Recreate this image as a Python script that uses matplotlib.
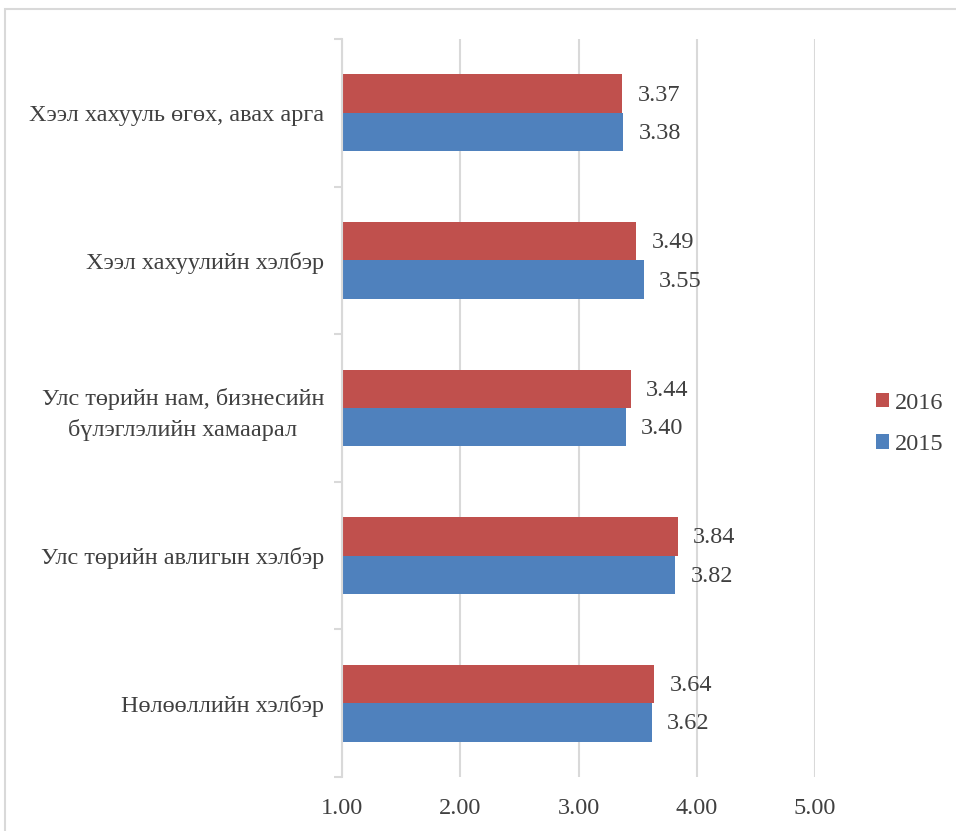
import numpy as np
import matplotlib.pyplot as plt
from matplotlib.patches import Rectangle

plt.rcParams['font.family'] = ['Liberation Serif', 'DejaVu Serif']

# Data (bottom to top)
categories = ["Нөлөөллийн хэлбэр",
              "Улс төрийн авлигын хэлбэр",
              "Улс төрийн нам, бизнесийн\nбүлэглэлийн хамаарал",
              "Хээл хахуулийн хэлбэр",
              "Хээл хахууль өгөх, авах арга"]
vals_2016 = [3.64, 3.84, 3.44, 3.49, 3.37]
vals_2015 = [3.62, 3.82, 3.40, 3.55, 3.38]
x_ticks = [1, 2, 3, 4, 5]

red = "#C0504D"
blue = "#4F81BD"
txt = "#404040"
grid_c = "#D9D9D9"
fs = 17.5

fig = plt.figure(figsize=(9.56, 8.31), dpi=100)
ax = fig.add_axes([342/956, 1 - 777/831, (815 - 342)/956, (777 - 39)/831])

y = np.arange(len(categories))
h = 0.26
base = 1.0
ax.barh(y - h/2, np.array(vals_2015) - base, left=base, height=h, color=blue, label="2015")
ax.barh(y + h/2, np.array(vals_2016) - base, left=base, height=h, color=red, label="2016")

for i in range(len(categories)):
    ax.text(vals_2016[i] + 0.13, y[i] + h/2 - 0.01, f"{vals_2016[i]:.2f}", va="center", ha="left",
            fontsize=fs, color=txt)
    ax.text(vals_2015[i] + 0.13, y[i] - h/2 - 0.01, f"{vals_2015[i]:.2f}", va="center", ha="left",
            fontsize=fs, color=txt)

ax.set_xlim(1, 5)
ax.set_ylim(-0.5, len(categories) - 0.5)
ax.set_xticks(x_ticks)
ax.set_xticklabels([f"{v:.2f}" for v in x_ticks], fontsize=fs, color=txt)
ax.tick_params(axis="x", length=0, pad=15)

ax.set_yticks(y)
ax.set_yticklabels(categories, fontsize=fs, color=txt, multialignment="center",
                   linespacing=1.5)
ax.tick_params(axis="y", length=0, pad=13)
ax.set_yticks(np.arange(-0.5, len(categories), 1), minor=True)
ax.tick_params(axis="y", which="minor", length=6, width=1.5, color=grid_c)

ax.grid(axis="x", color=grid_c, linewidth=1.5)
ax.set_axisbelow(True)
for s in ["top", "right", "bottom"]:
    ax.spines[s].set_visible(False)
ax.spines["left"].set_color(grid_c)
ax.spines["left"].set_linewidth(1.5)

handles, labels = ax.get_legend_handles_labels()
leg = fig.legend(handles[::-1], labels[::-1], loc="center left",
                 bbox_to_anchor=(866/956, 1 - 424/831), frameon=False,
                 fontsize=fs, handlelength=0.55, handleheight=0.55,
                 handletextpad=0.25, labelspacing=0.85, borderaxespad=0)
for t in leg.get_texts():
    t.set_color(txt)

# outer chart frame
fig.patches.append(Rectangle((5/956, -0.5), 2, 0.5 + 1 - 9/831, transform=fig.transFigure,
                             fill=False, edgecolor=grid_c, linewidth=1.5))

plt.savefig("out.png", dpi=100)
